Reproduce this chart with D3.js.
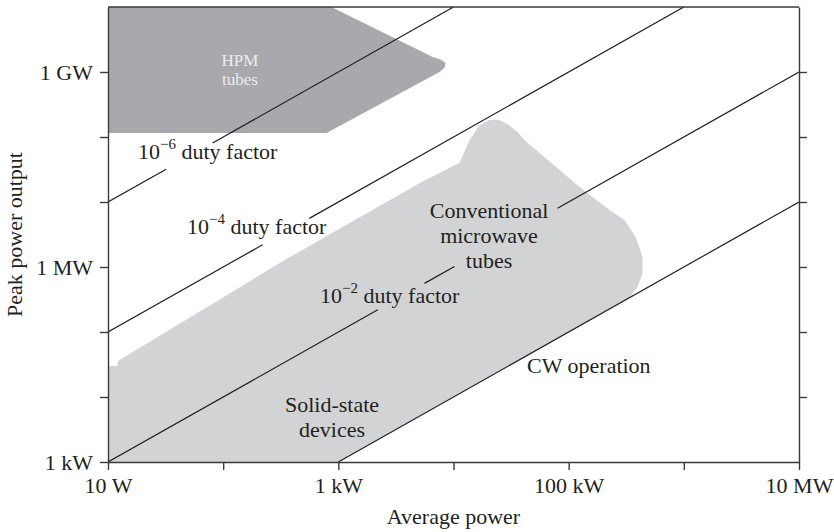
<!DOCTYPE html>
<html>
<head>
<meta charset="utf-8">
<script src="https://cdn.jsdelivr.net/npm/d3@7"></script>
<style>
  body { margin: 0; background: #fff; }
  text { font-family: "Liberation Serif", "DejaVu Serif", serif; fill: #231f20; }
</style>
</head>
<body>
<script>
var w = 834;
var h = 532;
var margin = {top: 7, right: 35, bottom: 70, left: 108};
var fontSize = 22;

// axis ticks (watts)
var xTicks = [1e1, 1e2, 1e3, 1e4, 1e5, 1e6, 1e7];
var xTickLabels = {1e1: '10 W', 1e3: '1 kW', 1e5: '100 kW', 1e7: '10 MW'};
var yTicks = [1e3, 1e4, 1e5, 1e6, 1e7, 1e8, 1e9, 1e10];
var yTickLabels = {1e3: '1 kW', 1e6: '1 MW', 1e9: '1 GW'};

// HPM tubes region: average power, peak power
var hpmAvg  = [10, 870, 6600, 7730, 8530, 8370, 7570, 790, 10];
var hpmPeak = [1e10, 1e10, 1.7e9, 1.56e9, 1.37e9, 1.17e9, 1.0e9, 1.15e8, 1.15e8];

// conventional microwave tubes + solid-state region
var convAvg  = [10, 10, 12, 12.3, 342, 5100, 11300, 13800, 16900, 20600, 24200, 29500, 35100,
                42900, 124000, 226000, 305000, 381000, 438000, 438000, 397000, 338000, 1000];
var convPeak = [1e3, 3.0e4, 3.0e4, 3.6e4, 1.28e6, 1.96e7, 4.0e7, 9.0e7, 1.53e8, 1.83e8, 1.86e8, 1.58e8, 1.24e8,
                8.47e7, 1.72e7, 7.5e6, 5.28e6, 2.9e6, 1.43e6, 8.1e5, 4.92e5, 338000, 1000];

// duty factor lines and the gaps (avg power) left for their labels
var dutyFactors = [1e-6, 1e-4, 1e-2, 1];
var dutyGaps = [
  [[32, 81]],
  [[220, 560]],
  [[2200, 5600], [10200, 80000]],
  []
];

var svg = d3.select('body')
  .append('svg')
  .attr('width', w)
  .attr('height', h);

var x = d3.scaleLog().domain([1e1, 1e7]).range([margin.left, w - margin.right]);
var y = d3.scaleLog().domain([1e3, 1e10]).range([h - margin.bottom, margin.top]);

svg.append('clipPath').attr('id', 'plot')
  .append('rect')
  .attr('x', x(1e1)).attr('y', y(1e10))
  .attr('width', x(1e7) - x(1e1)).attr('height', y(1e3) - y(1e10));

var area = d3.line()
  .x(function(d) { return x(d[0]); })
  .y(function(d) { return y(d[1]); })
  .curve(d3.curveLinearClosed);

var g = svg.append('g').attr('clip-path', 'url(#plot)');

g.append('path')
  .attr('d', area(d3.zip(hpmAvg, hpmPeak)))
  .attr('fill', '#a7a9ac');

g.append('path')
  .attr('d', area(d3.zip(convAvg, convPeak)))
  .attr('fill', '#d1d3d4');

// duty factor lines, split around their labels
dutyFactors.forEach(function(df, i) {
  var start = Math.max(1e1, 1e3 * df);
  var end = Math.min(1e7, 1e10 * df);
  var cuts = [start];
  dutyGaps[i].forEach(function(gap) { cuts.push(gap[0], gap[1]); });
  cuts.push(end);
  for (var k = 0; k < cuts.length; k += 2) {
    g.append('line')
      .attr('x1', x(cuts[k])).attr('y1', y(cuts[k] / df))
      .attr('x2', x(cuts[k + 1])).attr('y2', y(cuts[k + 1] / df))
      .attr('stroke', '#231f20')
      .attr('stroke-width', 1.2);
  }
});

// axes
var axisColor = '#3a3a3a';
function fmt(labels) {
  return function(d) { return labels[d] || ''; };
}
var bottom = svg.append('g')
  .attr('transform', 'translate(0,' + y(1e3) + ')')
  .call(d3.axisBottom(x).tickValues(xTicks).tickFormat(fmt(xTickLabels)).tickSize(8).tickSizeOuter(0).tickPadding(7));
var left = svg.append('g')
  .attr('transform', 'translate(' + x(1e1) + ',0)')
  .call(d3.axisLeft(y).tickValues(yTicks.slice(0, -1)).tickFormat(fmt(yTickLabels)).tickSize(8).tickSizeOuter(0).tickPadding(7));
var right = svg.append('g')
  .attr('transform', 'translate(' + x(1e7) + ',0)')
  .call(d3.axisRight(y).tickValues(yTicks.slice(1, -1)).tickFormat('').tickSize(8).tickSizeOuter(0));
svg.append('line')
  .attr('x1', x(1e1)).attr('x2', x(1e7))
  .attr('y1', y(1e10)).attr('y2', y(1e10))
  .attr('stroke', axisColor).attr('stroke-width', 1.4);

[bottom, left, right].forEach(function(a) {
  a.selectAll('path, line').attr('stroke', axisColor).attr('stroke-width', 1.4);
  a.selectAll('text')
    .attr('font-family', '"Liberation Serif", serif')
    .attr('font-size', fontSize)
    .attr('fill', '#231f20');
});

// axis titles
svg.append('text')
  .attr('x', (x(1e1) + x(1e7)) / 2)
  .attr('y', 524)
  .attr('text-anchor', 'middle')
  .attr('font-size', fontSize)
  .text('Average power');
svg.append('text')
  .attr('transform', 'translate(22,' + (y(1e3) + y(1e10)) / 2 + ') rotate(-90)')
  .attr('text-anchor', 'middle')
  .attr('font-size', fontSize)
  .text('Peak power output');

// annotations
function dutyLabel(px, py, exp) {
  var t = svg.append('text').attr('x', px).attr('y', py).attr('font-size', fontSize);
  t.append('tspan').text('10');
  t.append('tspan').attr('font-size', 15).attr('dy', -10).text('\u2212' + exp);
  t.append('tspan').attr('dy', 10).text(' duty factor');
}
dutyLabel(138, 159, 6);
dutyLabel(187, 234, 4);
dutyLabel(320, 303, 2);

function block(cx, lines, y0, step, size, color) {
  lines.forEach(function(s, i) {
    svg.append('text')
      .attr('x', cx).attr('y', y0 + i * step)
      .attr('text-anchor', 'middle')
      .attr('font-size', size)
      .style('fill', color)
      .text(s);
  });
}
block(240, ['HPM', 'tubes'], 66, 19, 17, '#ececec');
block(489, ['Conventional', 'microwave', 'tubes'], 218, 25, fontSize, '#231f20');
block(332, ['Solid-state', 'devices'], 412, 25, fontSize, '#231f20');
svg.append('text').attr('x', 527).attr('y', 373).attr('font-size', fontSize).text('CW operation');
</script>
</body>
</html>
